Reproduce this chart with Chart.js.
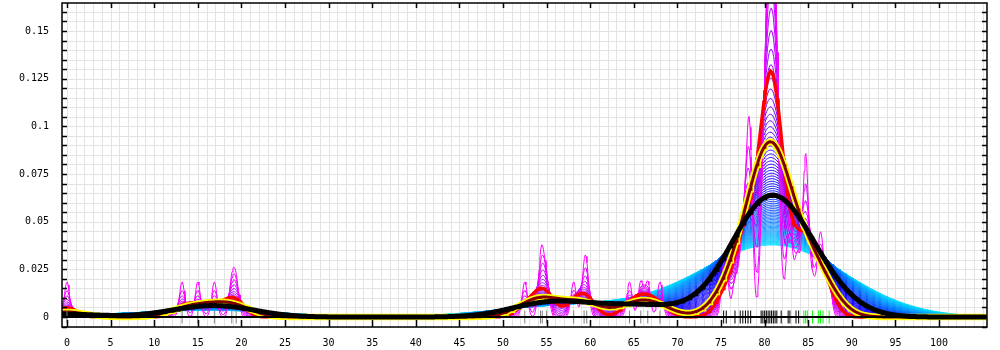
<!DOCTYPE html>
<html>
<head>
<meta charset="utf-8">
<script src="https://cdn.jsdelivr.net/npm/chart.js@4.4.1/dist/chart.umd.min.js"></script>
<style>
    html, body { margin: 0; padding: 0; background: #fff; }
</style>
</head>
<body>
<canvas id="chart" width="1000" height="350"></canvas>
<script>
const rugGrey = [0, 13.2, 15.0, 16.9, 18.9, 19.4, 52.5, 54.3, 54.5, 55.0, 58.1, 59.3, 59.6, 64.5, 65.8, 66.6, 68.0];
const rugBlack = [75.3, 75.6, 76.6, 77.2, 77.5, 77.8, 78.1, 78.4, 79.6, 79.8, 80.0, 80.2, 80.4, 80.6, 80.8, 81.0, 81.2, 81.4, 81.9, 82.7, 82.9, 83.6, 83.9];
const rugGreen = [84.5, 84.7, 84.9, 85.5, 86.2, 86.4, 86.7, 87.4];
// tied values, hidden under one rug tick each
const repeated = [78.1, 78.4, 78.4, 78.1, 80.0, 80.2, 80.4, 80.4, 80.6, 80.6, 80.6, 80.8, 80.8, 80.8, 81.0, 81.0, 81.0, 81.2, 81.2, 81.4, 81.4, 82.9, 84.7, 84.7];

// bandwidths: the fan goes from bwFirst to bwLast, three of them are drawn thick
const bwFirst = 0.3, bwLast = 7.7, bwStep = 0.1;
const bwRed = 1.15, bwBrown = 2.1, bwBlack = 3.9;

const xLabels = ['0', '5', '10', '15', '20', '25', '30', '35', '40', '45', '50', '55', '60', '65', '70', '75', '80', '85', '90', '95', '100'];
const yLabels = ['0', '0.025', '0.05', '0.075', '0.1', '0.125', '0.15'];

const xMin = -0.57, xMax = 105.5;
const yMin = -0.00524, yMax = 0.1647;

const sample = rugGrey.concat(rugBlack, rugGreen, repeated);

function kde(h) {
    const pts = [];
    const norm = 1 / (sample.length * h * Math.sqrt(2 * Math.PI));
    for (let i = 0; ; i++) {
        const x = xMin + i * 0.1;
        if (x > xMax) break;
        let s = 0;
        for (const v of sample) {
            const d = (x - v) / h;
            s += Math.exp(-0.5 * d * d);
        }
        pts.push({x: x, y: s * norm});
    }
    return pts;
}

function curve(h, color, width) {
    return {
        type: 'line',
        data: kde(h),
        borderColor: color,
        borderWidth: width,
        pointRadius: 0,
        fill: false,
        tension: 0,
    };
}

function rug(values, color) {
    return {
        type: 'scatter',
        data: values.map((v) => ({x: v, y: 0})),
        pointStyle: 'line',
        rotation: 90,
        radius: 6.5,
        borderColor: color,
        borderWidth: 1,
    };
}

const fan = [];
const nFan = Math.round((bwLast - bwFirst) / bwStep);
for (let i = 0; i <= nFan; i++) {
    const t = i / nFan;
    const hue = 300 - 113 * Math.pow(t, 0.7);
    fan.push(curve(bwFirst + i * bwStep, 'hsl(' + hue + ',100%,50%)', 1));
}

// grid, frame, zero line, tick marks and tick labels
const frame = {
    id: 'frame',
    beforeDatasetsDraw(chart) {
        const {ctx, chartArea: a, scales: {x, y}} = chart;
        ctx.save();
        ctx.strokeStyle = '#e3e3e3';
        ctx.lineWidth = 1;
        ctx.beginPath();
        for (let v = Math.ceil(x.min); v <= x.max; v++) {
            const px = Math.round(x.getPixelForValue(v)) + 0.5;
            ctx.moveTo(px, a.top);
            ctx.lineTo(px, a.bottom);
        }
        for (let k = Math.ceil(y.min / 0.005); k * 0.005 <= y.max; k++) {
            const py = Math.round(y.getPixelForValue(k * 0.005)) + 0.5;
            ctx.moveTo(a.left, py);
            ctx.lineTo(a.right, py);
        }
        ctx.stroke();
        ctx.restore();
    },
    afterDatasetsDraw(chart) {
        const {ctx, chartArea: a, scales: {x, y}} = chart;
        ctx.save();
        ctx.strokeStyle = '#000';
        ctx.lineWidth = 2;
        const y0 = Math.round(y.getPixelForValue(0));
        ctx.beginPath();
        ctx.moveTo(a.left, y0);
        ctx.lineTo(a.right, y0);
        ctx.stroke();

        ctx.lineWidth = 1.5;
        ctx.strokeRect(a.left, a.top, a.right - a.left, a.bottom - a.top);
        ctx.beginPath();
        for (let k = Math.ceil(y.min / 0.005); k * 0.005 <= y.max; k++) {
            const py = Math.round(y.getPixelForValue(k * 0.005)) + 0.5;
            ctx.moveTo(a.left, py);
            ctx.lineTo(a.left + 5, py);
            ctx.moveTo(a.right, py);
            ctx.lineTo(a.right - 5, py);
        }
        for (const lab of xLabels) {
            const px = Math.round(x.getPixelForValue(+lab)) + 0.5;
            ctx.moveTo(px, a.top);
            ctx.lineTo(px, a.top + 5);
            ctx.moveTo(px, a.bottom);
            ctx.lineTo(px, a.bottom - 7);
        }
        ctx.stroke();

        ctx.fillStyle = '#000';
        ctx.font = '10px "DejaVu Sans Mono"';
        ctx.textBaseline = 'middle';
        ctx.textAlign = 'right';
        for (const lab of yLabels) {
            ctx.fillText(lab, a.left - 13, y.getPixelForValue(+lab));
        }
        ctx.textAlign = 'center';
        for (const lab of xLabels) {
            ctx.fillText(lab, x.getPixelForValue(+lab), a.bottom + 16);
        }
        ctx.restore();
    },
};

new Chart(document.getElementById('chart'), {
    data: {
        datasets: [
            rug(rugGreen, '#00ff00'),
            rug(rugBlack, '#000000'),
            rug(rugGrey, '#808080'),
            curve(bwBlack, '#000000', 5),
            curve(bwBrown, '#800000', 3),
            curve(bwBrown, '#ffff00', 6.5),
            curve(bwRed, '#ff0000', 3.5),
            ...fan,
        ],
    },
    options: {
        responsive: false,
        animation: false,
        events: [],
        layout: {autoPadding: false, padding: {top: 3, right: 13, left: 0, bottom: 0}},
        plugins: {legend: {display: false}, tooltip: {enabled: false}},
        scales: {
            x: {
                type: 'linear',
                min: xMin,
                max: xMax,
                grid: {display: false, drawTicks: false},
                border: {display: false},
                ticks: {display: false},
                afterFit: (scale) => { scale.height = 23; },
            },
            y: {
                type: 'linear',
                min: yMin,
                max: yMax,
                grid: {display: false, drawTicks: false},
                border: {display: false},
                ticks: {display: false},
                afterFit: (scale) => { scale.width = 62; },
            },
        },
    },
    plugins: [frame],
});
</script>
</body>
</html>
